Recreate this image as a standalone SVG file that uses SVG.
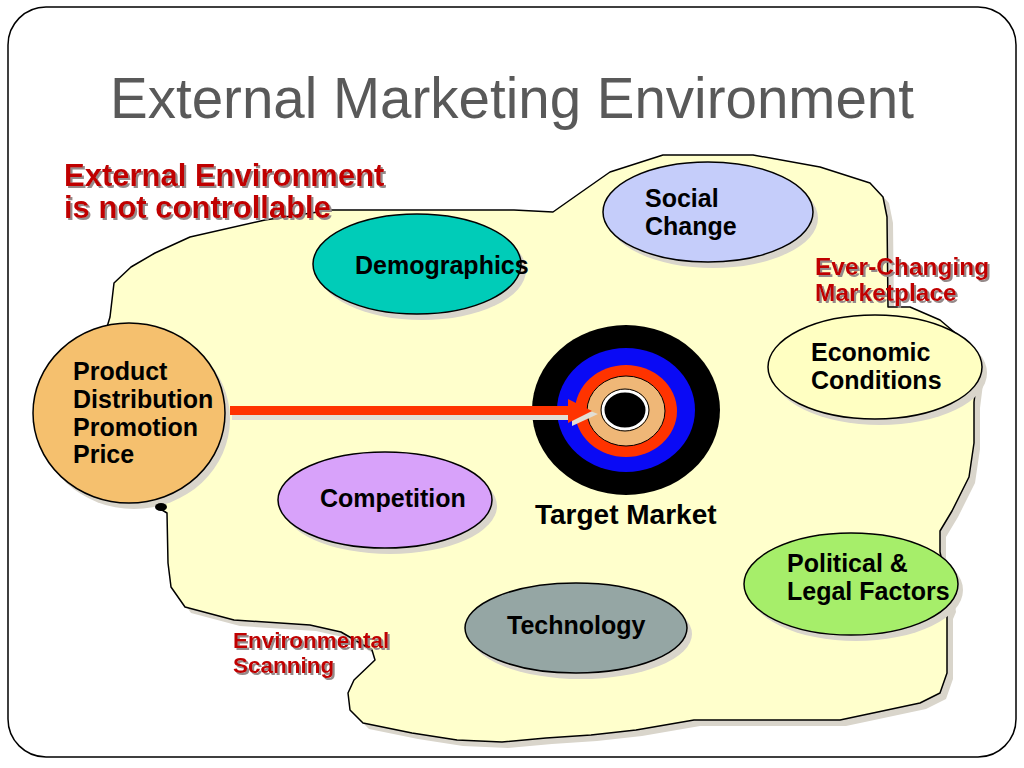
<svg xmlns="http://www.w3.org/2000/svg" width="1024" height="768" viewBox="0 0 1024 768">
<defs>
<style>
.t{font-family:"Liberation Sans",Arial,sans-serif;font-weight:bold;fill:#000;font-size:25px}
.red{font-family:"Liberation Sans",Arial,sans-serif;font-weight:bold;fill:#C00000}
.node{stroke:#000;stroke-width:1.5}
.sh{fill:#D9D5CB;stroke:none}
</style>
<filter id="tshadow" x="-5%" y="-20%" width="115%" height="150%">
<feFlood flood-color="#958a8a" result="c"/>
<feComposite in="c" in2="SourceAlpha" operator="in" result="s"/>
<feOffset in="s" dx="2" dy="2" result="o"/>
<feMerge><feMergeNode in="o"/><feMergeNode in="SourceGraphic"/></feMerge>
</filter>
</defs>
<rect x="8" y="7" width="1008" height="750" rx="38" fill="#fff" stroke="#000" stroke-width="1.5"/>
<text x="512" y="118" text-anchor="middle" font-family="'Liberation Sans',Arial,sans-serif" font-size="56.5" fill="#595959">External Marketing Environment</text>

<g id="environment">
<path class="sh" transform="translate(6,6)" d="M331,210 L514,210 L553,212 L580,193 L610,172 L663,155 L753,155 L820,167 L870,183 L883,197 L887,217 L888,307 L910,307 L940,320 L960,337 L969,345 L978,370 L974,402 L974,443 L969,477 L952,511 L940,531 L940,552 L947,585 L950,606 L947,613 L947,673 L940,693 L920,703 L873,713 L840,720 L800,720 L694,720 L636,730 L591,735 L546,738 L502,742 L457,740 L412,733 L363,723 L350,710 L348,693 L354,680 L375,660 L372,650 L341,632 L310,625 L234,620 L185,607 L171,587 L168,563 L167,513 L162,510 L110,420 L107,327 L110,317 L114,283 L131,267 L155,253 L190,237 L265,220 Z"/>
<path fill="#FFFFCC" stroke="#000" stroke-width="1.5" stroke-linejoin="round" d="M331,210 L514,210 L553,212 L580,193 L610,172 L663,155 L753,155 L820,167 L870,183 L883,197 L887,217 L888,307 L910,307 L940,320 L960,337 L969,345 L978,370 L974,402 L974,443 L969,477 L952,511 L940,531 L940,552 L947,585 L950,606 L947,613 L947,673 L940,693 L920,703 L873,713 L840,720 L800,720 L694,720 L636,730 L591,735 L546,738 L502,742 L457,740 L412,733 L363,723 L350,710 L348,693 L354,680 L375,660 L372,650 L341,632 L310,625 L234,620 L185,607 L171,587 L168,563 L167,513 L162,510 L110,420 L107,327 L110,317 L114,283 L131,267 L155,253 L190,237 L265,220 Z"/>
</g>

<g id="label-external" filter="url(#tshadow)">
<text class="red" font-size="31" x="64" y="186">External Environment</text>
<text class="red" font-size="31" x="64" y="218">is not controllable</text>
</g>

<g id="label-marketplace" filter="url(#tshadow)">
<text class="red" font-size="24.5" x="815" y="275">Ever-Changing</text>
<text class="red" font-size="24.5" x="815" y="301">Marketplace</text>
</g>

<g id="label-scanning" filter="url(#tshadow)">
<text class="red" font-size="22.5" x="233" y="648">Environmental</text>
<text class="red" font-size="22.5" x="233" y="673">Scanning</text>
</g>

<g id="demographics">
<ellipse class="sh" cx="422" cy="270" rx="104" ry="50"/>
<ellipse class="node" cx="417" cy="264" rx="104" ry="50" fill="#00CCB8"/>
<text class="t" x="355" y="274">Demographics</text>
</g>

<g id="social-change">
<ellipse class="sh" cx="713" cy="218" rx="105" ry="50"/>
<ellipse class="node" cx="708" cy="212" rx="105" ry="50" fill="#C5CDFA"/>
<text class="t" x="645" y="207">Social</text>
<text class="t" x="645" y="235">Change</text>
</g>

<g id="economic-conditions">
<ellipse class="sh" cx="880" cy="373" rx="107" ry="52"/>
<ellipse class="node" cx="875" cy="367" rx="107" ry="52" fill="#FFFFC2"/>
<text class="t" x="811" y="361">Economic</text>
<text class="t" x="811" y="389">Conditions</text>
</g>

<g id="political-legal">
<ellipse class="sh" cx="856" cy="590" rx="107" ry="51"/>
<ellipse class="node" cx="851" cy="584" rx="107" ry="51" fill="#A6EE6A"/>
<text class="t" x="787" y="572">Political &amp;</text>
<text class="t" x="787" y="600">Legal Factors</text>
</g>

<g id="technology">
<ellipse class="sh" cx="581" cy="634" rx="111" ry="45"/>
<ellipse class="node" cx="576" cy="628" rx="111" ry="45" fill="#95A6A4"/>
<text class="t" x="507" y="634">Technology</text>
</g>

<g id="competition">
<ellipse class="sh" cx="390" cy="506" rx="107" ry="48"/>
<ellipse class="node" cx="385" cy="500" rx="107" ry="48" fill="#D8A2FA"/>
<text class="t" x="320" y="507">Competition</text>
</g>

<g id="marketing-mix">
<ellipse class="sh" cx="134" cy="419" rx="96" ry="90"/>
<ellipse class="node" cx="129" cy="413" rx="96" ry="90" fill="#F5C06E"/>
<ellipse cx="161" cy="507" rx="6" ry="4" fill="#000"/>
<text class="t" x="73" y="380">Product</text>
<text class="t" x="73" y="408">Distribution</text>
<text class="t" x="73" y="436">Promotion</text>
<text class="t" x="73" y="463">Price</text>
</g>

<g id="target-market">
<ellipse cx="626" cy="410" rx="94" ry="85" fill="#000"/>
<ellipse cx="626" cy="410" rx="69" ry="62" fill="#0A0AF5"/>
<ellipse cx="626" cy="411" rx="51" ry="46" fill="#FF3300"/>
<ellipse cx="626" cy="411" rx="39" ry="35" fill="#EFB777" stroke="#000" stroke-width="1"/>
<ellipse cx="625" cy="410" rx="22" ry="19" fill="#000" stroke="#fff" stroke-width="3"/>
<ellipse cx="625" cy="410" rx="24" ry="21" fill="none" stroke="#000" stroke-width="1"/>
<text class="t" style="font-size:28px" x="535" y="524">Target Market</text>
</g>

<g id="connectors">
<polygon fill="#E2DED4" points="232,413 572,413 572,404 598,414 572,426 572,420 232,420"/>
<polygon fill="#FF3300" points="230,406 568,406 568,399 592,411 568,423 568,415 230,415"/>
</g>
</svg>
